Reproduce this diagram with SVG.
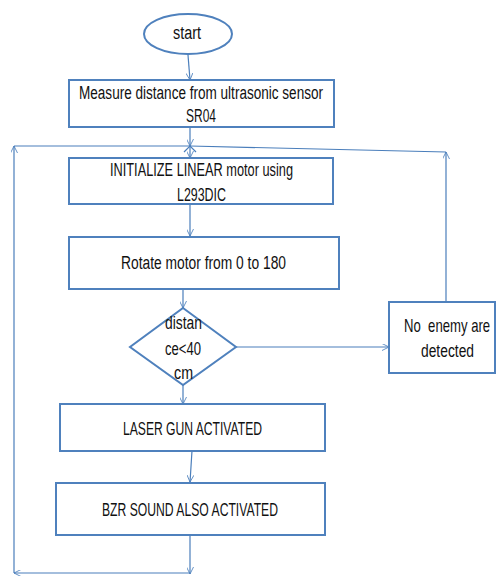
<svg xmlns="http://www.w3.org/2000/svg" width="496" height="576" viewBox="0 0 496 576">
<defs>
<marker id="arr" viewBox="0 0 10 10" refX="10" refY="5" markerWidth="7" markerHeight="7" orient="auto" markerUnits="userSpaceOnUse">
<path d="M0,0 L10,5 L0,10" fill="none" stroke="#4a7ebb" stroke-width="1.2"/>
</marker>
<style>
.box{fill:#fff;stroke:#4f81bd;stroke-width:2}
.ln{fill:none;stroke:#4a7ebb;stroke-width:1.2}
.ar{marker-end:url(#arr)}
text{font-family:"Liberation Sans",Arial,sans-serif;font-size:18px;fill:#111}
</style>
</defs>
<rect width="496" height="576" fill="#fff"/>
<g id="connectors">
<line class="ln ar" x1="188" y1="55" x2="190" y2="80"/>
<line class="ln ar" x1="190" y1="127" x2="190" y2="146"/>
<line class="ln ar" x1="190" y1="146" x2="190" y2="158"/>
<path class="ln" d="M184,152 L190,146 L196,152"/>
<line class="ln" x1="14" y1="146" x2="190" y2="146"/>
<line class="ln" x1="190" y1="146" x2="446" y2="152"/>
<line class="ln ar" x1="190" y1="204" x2="190" y2="236"/>
<line class="ln ar" x1="183" y1="289" x2="183" y2="308"/>
<line class="ln ar" x1="236" y1="347" x2="389" y2="347"/>
<line class="ln ar" x1="446" y1="302" x2="446" y2="152"/>
<line class="ln ar" x1="183" y1="385" x2="183" y2="404"/>
<line class="ln ar" x1="192" y1="451" x2="190" y2="482"/>
<line class="ln ar" x1="190" y1="535" x2="190" y2="574"/>
<line class="ln ar" x1="190" y1="573" x2="14" y2="573"/>
<line class="ln ar" x1="14" y1="573" x2="14" y2="146"/>
</g>
<g id="start">
<ellipse class="box" cx="188" cy="34" rx="44" ry="20"/>
<text x="173" y="39" textLength="28" lengthAdjust="spacingAndGlyphs">start</text>
</g>
<g id="measure">
<rect class="box" x="69" y="80" width="265" height="47"/>
<text x="79" y="99" textLength="244" lengthAdjust="spacingAndGlyphs">Measure distance from ultrasonic sensor</text>
<text x="186" y="122" textLength="30" lengthAdjust="spacingAndGlyphs">SR04</text>
</g>
<g id="init">
<rect class="box" x="69" y="158" width="264" height="46"/>
<text x="110" y="176" textLength="183" lengthAdjust="spacingAndGlyphs">INITIALIZE LINEAR motor using</text>
<text x="177" y="201" textLength="49" lengthAdjust="spacingAndGlyphs">L293DIC</text>
</g>
<g id="rotate">
<rect class="box" x="69" y="237" width="270" height="52"/>
<text x="121" y="269" textLength="165" lengthAdjust="spacingAndGlyphs">Rotate motor from 0 to 180</text>
</g>
<g id="decision">
<polygon class="box" points="183,308 236,347 183,385 130,347"/>
<text x="165" y="329" textLength="37" lengthAdjust="spacingAndGlyphs">distan</text>
<text x="165" y="355" textLength="36" lengthAdjust="spacingAndGlyphs">ce&lt;40</text>
<text x="174" y="379" textLength="19" lengthAdjust="spacingAndGlyphs">cm</text>
</g>
<g id="noenemy">
<rect class="box" x="389" y="302" width="106" height="71"/>
<text transform="matrix(0.73 0 0 1 404 332)" x="0" y="0" xml:space="preserve">No  enemy are</text>
<text x="421" y="357" textLength="53" lengthAdjust="spacingAndGlyphs">detected</text>
</g>
<g id="laser">
<rect class="box" x="60" y="404" width="265" height="47"/>
<text x="123" y="435" textLength="139" lengthAdjust="spacingAndGlyphs">LASER GUN ACTIVATED</text>
</g>
<g id="bzr">
<rect class="box" x="56" y="483" width="269" height="52"/>
<text x="102" y="516" textLength="176" lengthAdjust="spacingAndGlyphs">BZR SOUND ALSO ACTIVATED</text>
</g>
</svg>
